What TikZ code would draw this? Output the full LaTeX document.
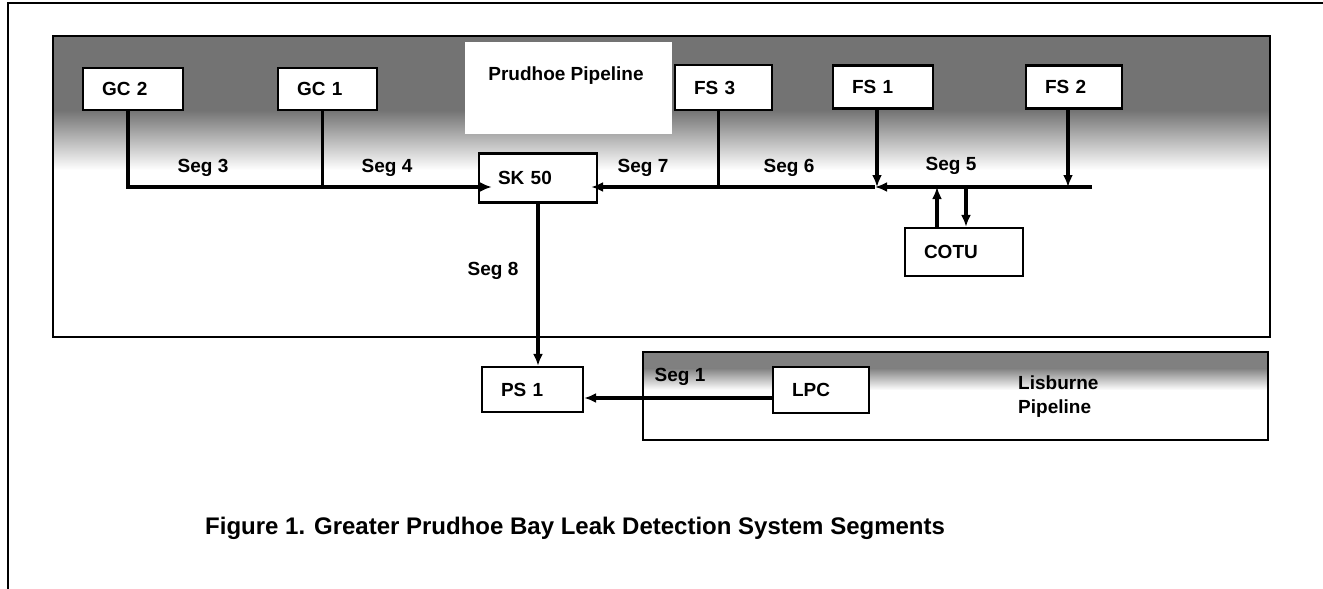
\documentclass[tikz,border=0pt]{standalone}
\usepackage{fontspec}
\setmainfont{Liberation Sans}
\usetikzlibrary{arrows.meta,calc}
\begin{document}
\begin{tikzpicture}[x=1pt,y=-1pt,
  lblfont/.style={font=\bfseries\fontsize{19}{22}\selectfont},
  box/.style={draw=black,line width=2.2pt,fill=white,inner xsep=19pt,inner ysep=0pt,align=left,lblfont},
  pipe/.style={line width=3.4pt},
  arr/.style={pipe,-{Latex[length=12pt,width=10pt]}},
  seg/.style={lblfont,inner sep=0pt},
  frame/.style={line width=2.2pt}]
\useasboundingbox (0,0) rectangle (1323,589);
% outer frame
\draw[frame] (8,589) -- (8,3) -- (1323,3);

% Prudhoe pipeline background
\fill[black!55] (53,36) rectangle (1270,110);
\shade[top color=black!55,bottom color=white] (53,110) rectangle (1270,170);
\node[fill=white,minimum width=207,minimum height=92,inner sep=0pt] (pparea) at (568,88) {};
\node[draw=black,line width=2.2pt,minimum width=1217,minimum height=301,inner sep=0pt] (prud) at (661.5,186.5) {};
\node[seg] (pplabel) at (566,76) {Prudhoe Pipeline};

% Lisburne pipeline background
\fill[black!50] (643,352) rectangle (1268,368);
\shade[top color=black!50,bottom color=white] (643,368) rectangle (1268,390);
\node[draw=black,line width=2.2pt,minimum width=625,minimum height=88,inner sep=0pt] (lis) at (955.5,396) {};
\node[seg,align=left,anchor=west] (lislabel) at (1018,397) {Lisburne\\[2pt]Pipeline};

% station boxes
\node[box,text width=62,minimum height=42] (gc2) at (133,89) {GC 2};
\node[box,text width=61,minimum height=42] (gc1) at (327.5,89) {GC 1};
\node[box,text width=59,minimum height=45] (fs3) at (723.5,87.5) {FS 3};
\node[box,text width=62,minimum height=43] (fs1) at (883,87) {FS 1};
\node[box,text width=58,minimum height=43] (fs2) at (1074,87) {FS 2};
\node[box,text width=80,minimum height=49] (sk50) at (538,178) {SK 50};
\node[box,text width=80,minimum height=48] (cotu) at (964,252) {COTU};
\node[box,text width=63,minimum height=45] (ps1) at (532.5,389.5) {PS 1};
\node[box,text width=58,minimum height=46] (lpc) at (821,390) {LPC};

% main line level
\coordinate (m) at (0,187);
\coordinate (l) at (0,398);
\coordinate (mainend) at (1092,187);

% connectors
\draw[arr] ([xshift=-5pt]gc2.south) |- ([xshift=14pt]sk50.west |- m);
\draw[pipe] ([xshift=-5pt]gc1.south) -- ([xshift=-5pt]gc1.south |- m);
\draw[pipe] ([xshift=-5pt]fs3.south) -- ([xshift=-5pt]fs3.south |- m);
\draw[arr] ([xshift=-6pt]fs1.south) -- ([xshift=-6pt]fs1.south |- m);
\draw[arr] ([xshift=-6pt]fs2.south) -- ([xshift=-6pt]fs2.south |- m);
\draw[arr] (mainend) -- ([xshift=-8pt]fs1.south |- m);
\draw[arr] ([xshift=-8pt]fs1.south |- m) -- ([xshift=-7pt]sk50.east |- m);
\draw[arr] ([xshift=-27pt]cotu.north) -- ([xshift=-27pt]cotu.north |- m);
\draw[arr] ([xshift=2pt]cotu.north |- m) -- ([xshift=2pt]cotu.north);
\draw[arr] (sk50.south) -- (sk50.south |- ps1.north);
\draw[arr] (lpc.west |- l) -- (ps1.east |- l);

% segment labels
\node[seg] (s3) at (203,168) {Seg 3};
\node[seg] (s4) at (387,168) {Seg 4};
\node[seg] (s7) at (643,168) {Seg 7};
\node[seg] (s6) at (789,168) {Seg 6};
\node[seg] (s5) at (951,166) {Seg 5};
\node[seg] (s8) at (493,271) {Seg 8};
\node[seg] (s1) at (680,377) {Seg 1};

% caption
\node[anchor=west,inner sep=0pt,font=\bfseries\fontsize{24}{28}\selectfont] (cap) at (205,528) {Figure 1. Greater Prudhoe Bay Leak Detection System Segments};
\end{tikzpicture}
\end{document}
